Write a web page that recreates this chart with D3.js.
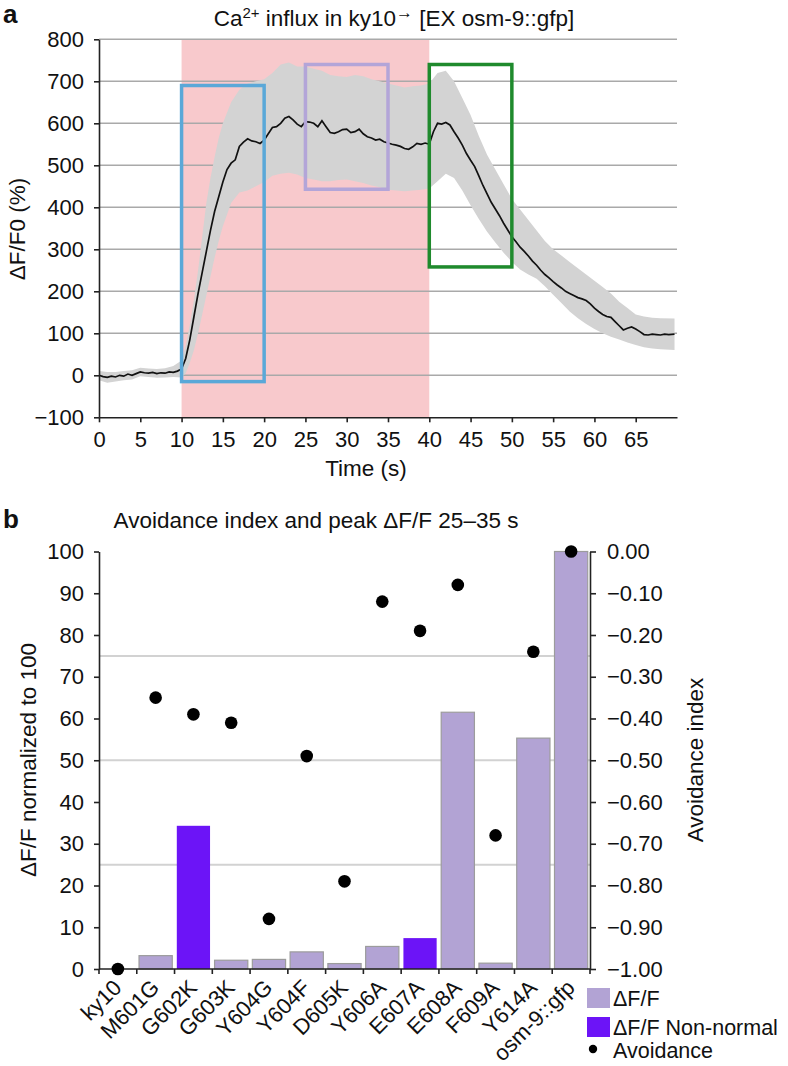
<!DOCTYPE html>
<html><head><meta charset="utf-8">
<script src="https://cdn.jsdelivr.net/npm/d3@7"></script>
<style>
body{margin:0;background:#fff}
text{font-family:"Liberation Sans",Arial,Helvetica,sans-serif;fill:#111}
</style>
</head><body>
<svg id="c" width="788" height="1066"></svg>
<script>
// ---------- Panel a data ----------
const timeS = [0,0.5,1,1.5,2,2.5,3,3.5,4,4.5,5,5.5,6,6.5,7,7.5,8,8.5,9,9.5,10,10.5,11,11.5,12,12.5,13,13.5,14,14.5,15,15.5,16,16.5,17,17.5,18,18.5,19,19.5,20,20.5,21,21.5,22,22.5,23,23.5,24,24.5,25,25.5,26,26.5,27,27.5,28,28.5,29,29.5,30,30.5,31,31.5,32,32.5,33,33.5,34,34.5,35,35.5,36,36.5,37,37.5,38,38.5,39,39.5,40,40.5,41,41.5,42,42.5,43,43.5,44,44.5,45,45.5,46,46.5,47,47.5,48,48.5,49,49.5,50,50.5,51,51.5,52,52.5,53,53.5,54,54.5,55,55.5,56,56.5,57,57.5,58,58.5,59,59.5,60,60.5,61,61.5,62,62.5,63,63.5,64,64.5,65,65.5,66,66.5,67,67.5,68,68.5,69,69.7];
const meanDFF = [0,-3,-5,-2,-4,0,-2,3,0,4,8,6,5,7,4,6,5,8,7,10,15,40,85,140,195,245,295,345,390,425,460,490,505,513,545,555,563,558,556,552,560,575,590,592,600,612,616,608,598,592,604,603,600,592,606,592,578,576,580,585,586,578,580,586,575,568,565,560,562,556,553,550,548,545,540,538,544,552,550,553,550,580,600,598,602,596,580,565,548,528,512,497,475,452,432,412,396,380,362,346,330,318,305,295,284,272,262,250,240,232,223,215,208,200,195,190,185,182,178,170,160,152,145,140,138,128,118,108,112,115,110,104,97,96,98,97,96,98,97,98];
const bandTime = [0,1,2,3,4,5,6,7,8,9,10,10.5,11,11.5,12,12.5,13,13.5,14,14.5,15,16,17,18,19,20,21,22,23,24,25,26,27,28,29,30,31,32,33,34,35,36,37,38,39,40,41,42,43,44,45,46,47,48,49,50,51,52,53,54,55,56,57,58,59,60,61,62,63,64,65,66,67,68,69.7];
const bandUpper = [10,8,8,10,12,18,16,15,17,22,35,70,120,180,250,330,410,470,520,565,600,650,680,695,700,705,720,740,745,735,735,730,725,715,712,710,715,712,705,700,695,690,685,688,690,695,720,725,700,660,620,570,525,490,455,420,395,370,345,320,300,285,270,255,240,225,210,195,175,160,145,140,137,136,135];
const bandLower = [-12,-18,-15,-12,-10,-2,-4,-6,-5,-4,-5,5,30,60,100,145,190,235,280,320,355,410,435,440,450,460,475,480,482,478,470,466,462,462,465,466,462,458,452,448,442,440,438,440,442,445,462,480,470,440,405,372,342,316,292,270,252,240,230,212,192,172,152,136,122,110,100,92,85,78,72,67,64,62,60];
const xTicksA = [0,5,10,15,20,25,30,35,40,45,50,55,60,65];
const yTicksA = [-100,0,100,200,300,400,500,600,700,800];
const stimulus = [10,40];
const boxStart = [10,25,40];
const boxEnd = [20,35,50];
const boxTop = [690,740,740];
const boxBottom = [-15,443,258];
const boxColors = ["#5aa8d8","#b3a5d8","#1f8a2d"];

// ---------- Panel b data ----------
const categories = ["ky10","M601G","G602K","G603K","Y604G","Y604F","D605K","Y606A","E607A","E608A","F609A","Y614A","osm-9::gfp"];
const dffNorm = [0,3.2,34.3,2.1,2.3,4.1,1.3,5.4,7.4,61.5,1.4,55.3,100];
const nonNormal = [false,false,true,false,false,false,false,false,true,false,false,false,false];
const avoidance = [-1.00,-0.35,-0.39,-0.41,-0.88,-0.49,-0.79,-0.12,-0.19,-0.08,-0.68,-0.24,0.00];
const leftTicksB = [0,10,20,30,40,50,60,70,80,90,100];
const rightTicksB = [-1.0,-0.9,-0.8,-0.7,-0.6,-0.5,-0.4,-0.3,-0.2,-0.1,0.0];
const gridB = [25,50,75];

const FS = 22;
const FT = 22.5;
const svg = d3.select("#c");

// ===== Panel a =====
const xA = d3.scaleLinear().domain([0,70]).range([99,677]);
const yA = d3.scaleLinear().domain([-100,800]).range([417.3,39.3]);
const gA = svg.append("g");

gA.append("rect")
  .attr("x", xA(stimulus[0])).attr("y", yA(800))
  .attr("width", xA(stimulus[1]) - xA(stimulus[0]))
  .attr("height", yA(-100) - yA(800))
  .attr("fill", "#f8c9cc");

gA.selectAll("line.grid").data(yTicksA.filter(d => d > -100)).join("line")
  .attr("class","grid")
  .attr("x1", xA(0)).attr("x2", xA(70))
  .attr("y1", d => yA(d)).attr("y2", d => yA(d))
  .attr("stroke", "#a9a9a9").attr("stroke-width", 1.5);

const band = bandTime.map((t,i) => ({t, u: bandUpper[i], l: bandLower[i]}));
gA.append("path").datum(band)
  .attr("d", d3.area().x(d => xA(d.t)).y0(d => yA(d.l)).y1(d => yA(d.u)))
  .attr("fill", "#d3d3d3");

const meanData = timeS.map((t,i) => ({t, v: meanDFF[i]}));
gA.append("path").datum(meanData)
  .attr("d", d3.line().x(d => xA(d.t)).y(d => yA(d.v)))
  .attr("fill", "none").attr("stroke", "#111").attr("stroke-width", 1.7);

gA.selectAll("rect.box").data(boxStart).join("rect")
  .attr("class","box")
  .attr("x", (d,i) => xA(d)).attr("y", (d,i) => yA(boxTop[i]))
  .attr("width", (d,i) => xA(boxEnd[i]) - xA(d))
  .attr("height", (d,i) => yA(boxBottom[i]) - yA(boxTop[i]))
  .attr("fill", "none").attr("stroke", (d,i) => boxColors[i]).attr("stroke-width", 3.5);

function styleAxis(g){
  g.attr("font-size", FS).attr("font-family", '"Liberation Sans",Arial,sans-serif');
  g.select(".domain").attr("stroke", "#222").attr("stroke-width", 1.6);
  g.selectAll(".tick line").attr("stroke", "#222").attr("stroke-width", 1.6);
  g.selectAll(".tick text").attr("fill", "#111");
}

gA.append("g").attr("transform", `translate(${xA(0)},0)`)
  .call(d3.axisLeft(yA).tickValues(yTicksA).tickSize(5).tickSizeOuter(0).tickPadding(10))
  .call(styleAxis);

gA.append("g").attr("transform", `translate(0,${yA(-100)})`)
  .call(d3.axisBottom(xA).tickValues(xTicksA).tickSize(5).tickSizeOuter(0).tickPadding(9).tickFormat(d3.format("d")))
  .call(styleAxis);

gA.append("text").attr("x", 366).attr("y", 476).attr("text-anchor","middle")
  .attr("font-size", FT).text("Time (s)");
gA.append("text").attr("transform", "translate(25,229) rotate(-90)")
  .attr("text-anchor","middle").attr("font-size", FT).text("ΔF/F0 (%)");

const tA = gA.append("text").attr("x", 394).attr("y", 26).attr("text-anchor","middle").attr("font-size", FT);
tA.append("tspan").text("Ca");
tA.append("tspan").attr("font-size", 15).attr("dy", -8).text("2+");
tA.append("tspan").attr("dy", 8).text(" influx in ky10");
tA.append("tspan").attr("font-size", 17).attr("dy", -8).text("→");
tA.append("tspan").attr("dy", 8).text(" [EX osm-9::gfp]");

svg.append("text").attr("x", 3).attr("y", 23).attr("font-size", 26).attr("font-weight","bold").text("a");

// ===== Panel b =====
const xB = d3.scaleBand().domain(categories).range([99,590]).paddingInner(0.12).paddingOuter(0.06);
const yL = d3.scaleLinear().domain([0,100]).range([969,551.5]);
const yR = d3.scaleLinear().domain([-1,0]).range([969,551.5]);
const gB = svg.append("g");

gB.selectAll("line.gridb").data(gridB).join("line")
  .attr("class","gridb")
  .attr("x1", 99).attr("x2", 590)
  .attr("y1", d => yL(d)).attr("y2", d => yL(d))
  .attr("stroke", "#d2d2d2").attr("stroke-width", 2);

const barData = categories.map((c,i) => ({c, v: dffNorm[i], nn: nonNormal[i]}));
gB.selectAll("rect.bar").data(barData.filter(d => d.v > 0)).join("rect")
  .attr("class","bar")
  .attr("x", d => xB(d.c)).attr("width", xB.bandwidth())
  .attr("y", d => yL(d.v)).attr("height", d => yL(0) - yL(d.v))
  .attr("fill", d => d.nn ? "#6c14f7" : "#b2a3d4")
  .attr("stroke", d => d.nn ? "none" : "#9c9c9c").attr("stroke-width", 1.2);

gB.append("g").attr("transform", "translate(99,0)")
  .call(d3.axisLeft(yL).tickValues(leftTicksB).tickSize(5).tickSizeOuter(0).tickPadding(10))
  .call(styleAxis);
gB.append("g").attr("transform", "translate(590,0)")
  .call(d3.axisRight(yR).tickValues(rightTicksB).tickSize(6).tickSizeOuter(0).tickPadding(11).tickFormat(d3.format(".2f")))
  .call(styleAxis);

// bottom axis with ticks at band boundaries
const step = xB.step();
const bounds = categories.map(c => xB(c) - step * xB.paddingInner() / 2).concat([xB(categories[categories.length-1]) + xB.bandwidth() + step * xB.paddingInner() / 2]);
gB.append("line").attr("x1", xB.range()[0]).attr("x2", xB.range()[1])
  .attr("y1", yL(0)).attr("y2", yL(0)).attr("stroke", "#222").attr("stroke-width", 1.6);
gB.selectAll("line.xt").data(bounds).join("line").attr("class","xt")
  .attr("x1", d => d).attr("x2", d => d).attr("y1", yL(0)).attr("y2", yL(0) + 5)
  .attr("stroke", "#222").attr("stroke-width", 1.6);
gB.selectAll("text.cat").data(categories).join("text").attr("class","cat")
  .attr("transform", d => `translate(${xB(d) + xB.bandwidth()/2 + 5},${yL(0) + 20}) rotate(-45)`)
  .attr("text-anchor","end").attr("font-size", FS).text(d => d);

gB.selectAll("circle.av").data(categories).join("circle").attr("class","av")
  .attr("cx", d => xB(d) + xB.bandwidth()/2)
  .attr("cy", (d,i) => yR(avoidance[i]))
  .attr("r", 6.3).attr("fill", "#000");

gB.append("text").attr("x", 316).attr("y", 528).attr("text-anchor","middle").attr("font-size", FT)
  .text("Avoidance index and peak ΔF/F 25–35 s");
gB.append("text").attr("transform", "translate(36,760) rotate(-90)").attr("text-anchor","middle")
  .attr("font-size", FT).text("ΔF/F normalized to 100");
gB.append("text").attr("transform", "translate(703,760) rotate(-90)").attr("text-anchor","middle")
  .attr("font-size", FT).text("Avoidance index");
svg.append("text").attr("x", 3).attr("y", 528).attr("font-size", 26).attr("font-weight","bold").text("b");

// legend
const legLabels = ["ΔF/F","ΔF/F Non-normal","Avoidance"];
const legColors = ["#b2a3d4","#6c14f7","#000"];
const leg = gB.append("g");
leg.selectAll("rect").data(legLabels.slice(0,2)).join("rect")
  .attr("x", 587).attr("y", (d,i) => 988 + i*29).attr("width", 23).attr("height", 20)
  .attr("fill", (d,i) => legColors[i]);
leg.append("circle").attr("cx", 593).attr("cy", 1049).attr("r", 4.2).attr("fill", legColors[2]);
leg.selectAll("text").data(legLabels).join("text")
  .attr("x", 613).attr("y", (d,i) => [1006,1035,1058][i]).attr("font-size", 21.5).text(d => d);
</script>
</body></html>
